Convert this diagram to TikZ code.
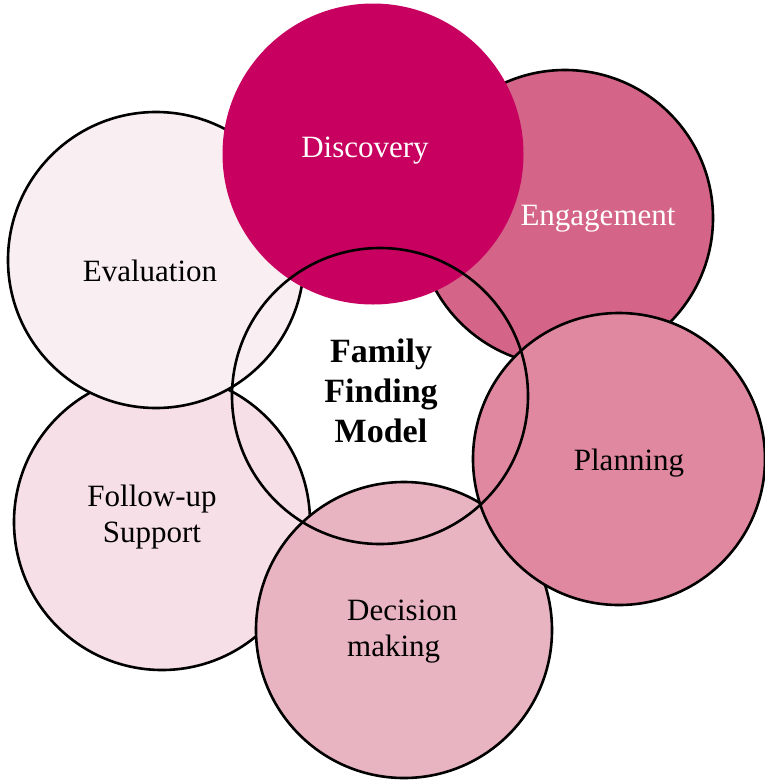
\documentclass[tikz,border=0pt]{standalone}
\usepackage{fontspec}
\setmainfont{Liberation Serif}
\usepackage{tikz}
\usetikzlibrary{positioning}
\definecolor{discoverc}{HTML}{C80060}
\definecolor{engagec}{HTML}{D46488}
\definecolor{planc}{HTML}{E088A0}
\definecolor{decidec}{HTML}{E9B4C2}
\definecolor{followc}{HTML}{F6DFE6}
\definecolor{evalc}{HTML}{F9EEF1}
\tikzstyle{stage} = [draw, circle, line width=2.6pt, minimum size=296pt, inner sep=0pt]
\tikzstyle{stagetext} = [inner sep=0pt, font=\fontsize{31}{36}\selectfont]
\tikzstyle{coretext} = [inner sep=0pt, align=center, font=\fontsize{34}{40}\selectfont\bfseries]

\begin{document}
\begin{tikzpicture}[x=1pt, y=-1pt]
  \useasboundingbox (0,0) rectangle (765,780);

  % the ring of stages, back to front
  \node[stage, fill=followc] (follow) at (162,522) {};
  \node[stage, fill=evalc] (eval) at (156,260) {};
  \node[stage, fill=engagec] (engage) at (565,218) {};
  \node[stage, draw=none, fill=discoverc, minimum size=301pt] (discover) at (373,154) {};
  \node[stage, fill=decidec] (decide) at (404,630) {};
  \node[stage, fill=planc, minimum size=292pt] (plan) at (619,459) {};
  \node[stage] (core) at (380,396) {};

  % stage names
  \node[stagetext, text=white] (discover-t) at (365,151) {Discovery};
  \node[stagetext, text=white] (engage-t) at (598,219) {Engagement};
  \node[stagetext] (plan-t) at (629,463) {Planning};
  \node[stagetext, align=left, anchor=west] (decide-t) at (347,632) {Decision\\making};
  \node[stagetext, align=center] (follow-t) at (152,517) {Follow-up\\Support};
  \node[stagetext] (eval-t) at (150,271) {Evaluation};
  \node[coretext] (core-t) at (381,391) {Family\\Finding\\Model};
\end{tikzpicture}
\end{document}
